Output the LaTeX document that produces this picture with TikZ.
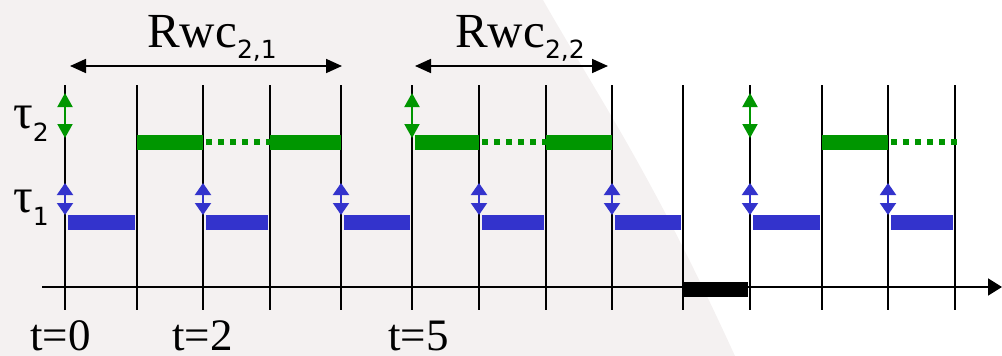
\documentclass[tikz,border=0pt]{standalone}
\usepackage{fontspec}
\setsansfont{DejaVu Sans}
\newfontfamily\timesfont{LiberationSerif}[Extension=.ttf,UprightFont=*-Regular]
\usetikzlibrary{positioning,arrows.meta}
\definecolor{colortaskone} {RGB}{ 51, 51,204}
\definecolor{colortasktwo} {RGB}{  0,150,  0}
\definecolor{colorpaper}   {RGB}{244,241,241}
\newcommand{\idx}[2][-11pt]{\raisebox{#1}{\fontsize{25}{25}\sffamily #2}}

\begin{document}
\begin{tikzpicture}[
    x=1pt, y=-1pt,
    font={\timesfont\fontsize{49}{49}\selectfont},
    tick/.style={line width=1.8pt},
    timeaxis/.style={line width=1.8pt,-{Triangle[width=17pt,length=14pt]}},
    span/.style={line width=1.8pt,{Triangle[width=14pt,length=16pt]}-{Triangle[width=14pt,length=16pt]}},
    releaseone/.style={colortaskone,line width=2pt,{Triangle[width=16pt,length=12pt]}-{Triangle[width=16pt,length=12pt]}},
    releasetwo/.style={colortasktwo,line width=2pt,{Triangle[width=15pt,length=14pt]}-{Triangle[width=15pt,length=14pt]}},
    runone/.style={colortaskone,line width=15pt},
    runtwo/.style={colortasktwo,line width=15pt},
    waittwo/.style={colortasktwo,line width=6pt,dash pattern=on 6pt off 6pt},
    textlabel/.style={anchor=base west,inner sep=0pt},
    instant/.style={textlabel,font={\timesfont\fontsize{45}{45}\selectfont}},
]
    \useasboundingbox (0,0) rectangle (1002,356);
    \fill[colorpaper] (0,0) -- (543,0) .. controls (600,100) and (650,170) .. (735,356) -- (0,356) -- cycle;

    % time grid
    \foreach \i/\x in {0/65,1/137,2/203,3/270,4/341,5/412,6/479,7/546,8/612,9/683,10/750,11/822,12/888,13/955}
        \draw[tick] (\x,85) -- (\x,310);
    \coordinate (axisstart) at (42,287);
    \coordinate (axisend)   at (1002,287);
    \draw[timeaxis] (axisstart) -- (axisend);

    % idle slot
    \fill (683,282) rectangle (748,297);

    % task 1
    \foreach \a/\b in {65/137,203/270,341/412,479/546,612/683,750/822,888/955}{
        \draw[runone] (\a+3,222) -- (\b-2,222);
        \draw[releaseone] (\a,183) -- (\a,215);
    }

    % task 2
    \foreach \a/\b in {137/203,270/341,415/479,546/612,822/888}
        \draw[runtwo] (\a,142) -- (\b,142);
    \foreach \a/\b in {206/270,482/546,891/960}
        \draw[waittwo] (\a,142) -- (\b,142);
    \foreach \a in {65,412,750}
        \draw[releasetwo] (\a,93) -- (\a,138);

    % response times
    \coordinate (rwcastart) at (70,66);
    \coordinate (rwcaend)   at (342,66);
    \coordinate (rwcbstart) at (415,66);
    \coordinate (rwcbend)   at (608,66);
    \draw[span] (rwcastart) -- (rwcaend);
    \draw[span] (rwcbstart) -- (rwcbend);
    \node[textlabel] (rwca) at (147,47) {Rwc\idx{2,1}};
    \node[textlabel] (rwcb) at (455,47) {Rwc\idx{2,2}};

    % task names
    \node[textlabel] (tautwo) at (13,128) {τ\idx[-13pt]{2}};
    \node[textlabel] (tauone) at (13,212) {τ\idx[-13pt]{1}};

    % instants
    \node[instant] (tzero) at (30,350) {t=0};
    \node[instant] (ttwo)  at (172,350) {t=2};
    \node[instant] (tfive) at (388,350) {t=5};

\end{tikzpicture}
\end{document}
